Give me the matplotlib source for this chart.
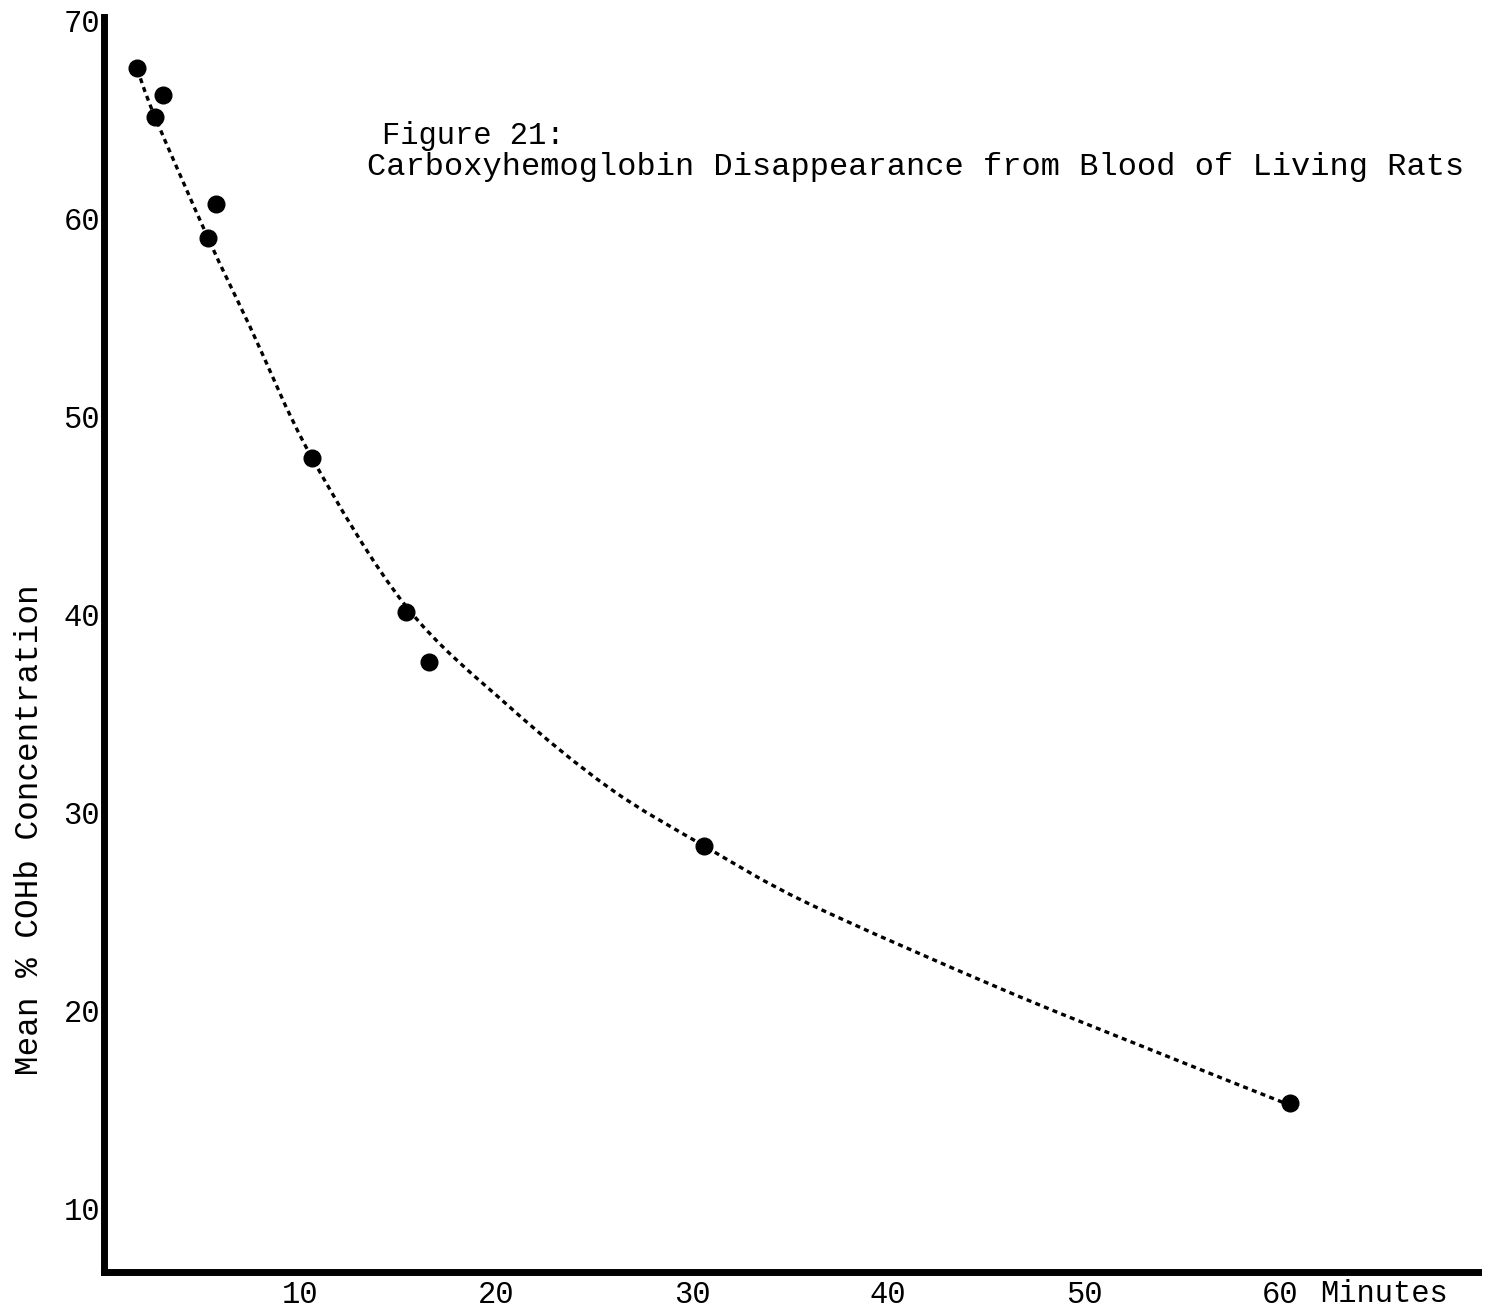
import matplotlib
matplotlib.use("Agg")
import matplotlib.pyplot as plt
from matplotlib.path import Path
from matplotlib.patches import PathPatch

# Mean % COHb measured in rats after removal from CO exposure
minutes = [1.7, 3.0, 2.6, 5.7, 5.3, 10.6, 15.4, 16.6, 30.6, 60.5]
cohb = [67.6, 66.2, 65.1, 60.7, 59.0, 47.9, 40.1, 37.6, 28.3, 15.3]

# Hand-drawn disappearance curve through the points
curve_minutes = [1.7, 2.6, 5.3, 7.45, 10.6, 15.4, 20.7, 25.8, 30.6, 35.9, 45.7, 53.4, 60.5]
curve_cohb = [67.5, 65.1, 59.0, 54.5, 47.9, 40.4, 35.3, 31.2, 28.3, 25.4, 21.1, 18.0, 15.2]

x_ticks = [10, 20, 30, 40, 50, 60]
y_ticks = [10, 20, 30, 40, 50, 60, 70]

mono = "Liberation Mono"


def smooth_path(xs, ys):
    # Catmull-Rom through the points, written as cubic Bezier segments
    pts = list(zip(xs, ys))
    verts = [pts[0]]
    codes = [Path.MOVETO]
    for i in range(len(pts) - 1):
        p0 = pts[i - 1] if i > 0 else pts[i]
        p1 = pts[i]
        p2 = pts[i + 1]
        p3 = pts[i + 2] if i + 2 < len(pts) else pts[i + 1]
        c1 = (p1[0] + (p2[0] - p0[0]) / 6, p1[1] + (p2[1] - p0[1]) / 6)
        c2 = (p2[0] - (p3[0] - p1[0]) / 6, p2[1] - (p3[1] - p1[1]) / 6)
        verts += [c1, c2, p2]
        codes += [Path.CURVE4] * 3
    return Path(verts, codes)


fig = plt.figure(figsize=(14.91, 13.11), dpi=100)
ax = fig.add_axes([0.0698, 0.0297, 0.9215, 0.9573])

curve = PathPatch(smooth_path(curve_minutes, curve_cohb), facecolor="none",
                  edgecolor="black", lw=2.4, linestyle=(0, (1.5, 1.3)), zorder=2)
ax.add_patch(curve)
ax.plot(minutes, cohb, "o", color="black", markersize=12, zorder=3)

ax.set_xlim(0, 70.1)
ax.set_ylim(6.77, 70.15)

for side in ["top", "right"]:
    ax.spines[side].set_visible(False)
ax.spines["left"].set_linewidth(5)
ax.spines["bottom"].set_linewidth(5)

ax.set_xticks(x_ticks)
ax.set_yticks(y_ticks)
ax.tick_params(length=0)
ax.tick_params(axis="y", pad=3)
ax.tick_params(axis="x", pad=6)
for lab in ax.get_xticklabels() + ax.get_yticklabels():
    lab.set_fontfamily(mono)
    lab.set_fontsize(22)

fig.text(382 / 1491, 1 - 136 / 1311, "Figure 21:", family=mono,
         fontsize=22, va="center", ha="left")
fig.text(367 / 1491, 1 - 167 / 1311,
         "Carboxyhemoglobin Disappearance from Blood of Living Rats",
         family=mono, fontsize=23, va="center", ha="left")
fig.text(1320 / 1491, 1 - 1294 / 1311, "Minutes", family=mono,
         fontsize=22, va="center", ha="left")
fig.text(30 / 1491, 1 - 830 / 1311, "Mean % COHb Concentration",
         family=mono, fontsize=23.5, va="center", ha="center", rotation=90)

fig.savefig("out.png", dpi=100, facecolor="white")
